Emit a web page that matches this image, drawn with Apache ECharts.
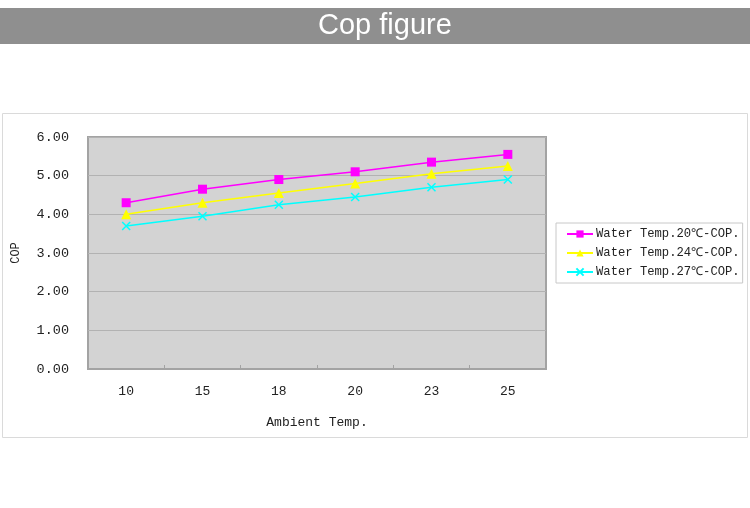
<!DOCTYPE html>
<html>
<head>
<meta charset="utf-8">
<script src="https://cdn.jsdelivr.net/npm/echarts@6/dist/echarts.min.js"></script>
<style>html,body{margin:0;padding:0;background:#fff;}#c{width:750px;height:508px;}</style>
</head>
<body>
<div id="c"></div>
<script>
const categories = ['10', '15', '18', '20', '23', '25'];
const cop20 = [4.30, 4.65, 4.90, 5.10, 5.35, 5.55];
const cop24 = [4.00, 4.30, 4.55, 4.80, 5.05, 5.25];
const cop27 = [3.70, 3.95, 4.25, 4.45, 4.70, 4.90];
const seriesNames = ['Water Temp.20℃-COP.', 'Water Temp.24℃-COP.', 'Water Temp.27℃-COP.'];

const monoFont = '"Liberation Mono", "DejaVu Sans Mono", monospace';
const chart = echarts.init(document.getElementById('c'), null, {renderer: 'canvas'});
chart.setOption({
  animation: false,
  title: {
    text: 'Cop figure', left: 313, top: 6,
    textStyle: {color: '#ffffff', fontSize: 29, fontWeight: 'normal', fontFamily: '"Liberation Sans", Arial, sans-serif'}
  },
  graphic: [
    {type: 'rect', z: -10, shape: {x: 0, y: 8, width: 750, height: 36}, style: {fill: '#8f8f8f'}},
    {type: 'rect', z: -10, shape: {x: 2.5, y: 113.5, width: 745, height: 324}, style: {fill: '#ffffff', stroke: '#dadada', lineWidth: 1}}
  ],
  grid: {
    left: 88, right: 204, top: 137, bottom: 139, show: true,
    backgroundColor: '#d3d3d3', borderColor: '#a3a3a3', borderWidth: 2
  },
  legend: {
    orient: 'vertical', left: 556, top: 223,
    backgroundColor: '#ffffff', borderColor: '#c8c8c8', borderWidth: 1,
    padding: [5, 3, 5, 10], itemGap: 7, itemWidth: 26, itemHeight: 9,
    textStyle: {fontFamily: monoFont, fontSize: 12.2, color: '#222', padding: [0, 0, 0, -2]},
    data: seriesNames
  },
  xAxis: {
    type: 'category', data: categories, boundaryGap: true,
    name: 'Ambient Temp.', nameLocation: 'middle', nameGap: 47,
    nameTextStyle: {fontFamily: monoFont, fontSize: 13, color: '#222'},
    axisLine: {show: true, lineStyle: {color: '#a3a3a3', width: 2}},
    axisTick: {show: true, inside: true, length: 4, lineStyle: {color: '#a3a3a3'}},
    axisLabel: {fontFamily: monoFont, fontSize: 13, color: '#222', margin: 16},
    splitLine: {show: false}
  },
  yAxis: {
    type: 'value', min: 0, max: 6, interval: 1,
    name: 'COP', nameLocation: 'middle', nameGap: 66,
    nameTextStyle: {fontFamily: monoFont, fontSize: 12, color: '#222'},
    axisLine: {show: false}, axisTick: {show: false},
    axisLabel: {fontFamily: monoFont, fontSize: 13.5, color: '#222', margin: 19, formatter: v => v.toFixed(2)},
    splitLine: {show: true, lineStyle: {color: '#b2b2b2', width: 1}}
  },
  series: [
    {name: seriesNames[0], type: 'line', data: cop20, symbol: 'rect', symbolSize: 9,
     lineStyle: {color: '#ff00ff', width: 1.5}, itemStyle: {color: '#ff00ff'}},
    {name: seriesNames[1], type: 'line', data: cop24, symbol: 'triangle', symbolSize: 10,
     lineStyle: {color: '#ffff00', width: 1.5}, itemStyle: {color: '#ffff00'}},
    {name: seriesNames[2], type: 'line', data: cop27, symbol: 'path://M0,0L10,10M10,0L0,10', symbolSize: 8,
     lineStyle: {color: '#00ffff', width: 1.5}, itemStyle: {color: '#00ffff', borderColor: '#00ffff', borderWidth: 1.5}}
  ]
});
</script>
</body>
</html>
